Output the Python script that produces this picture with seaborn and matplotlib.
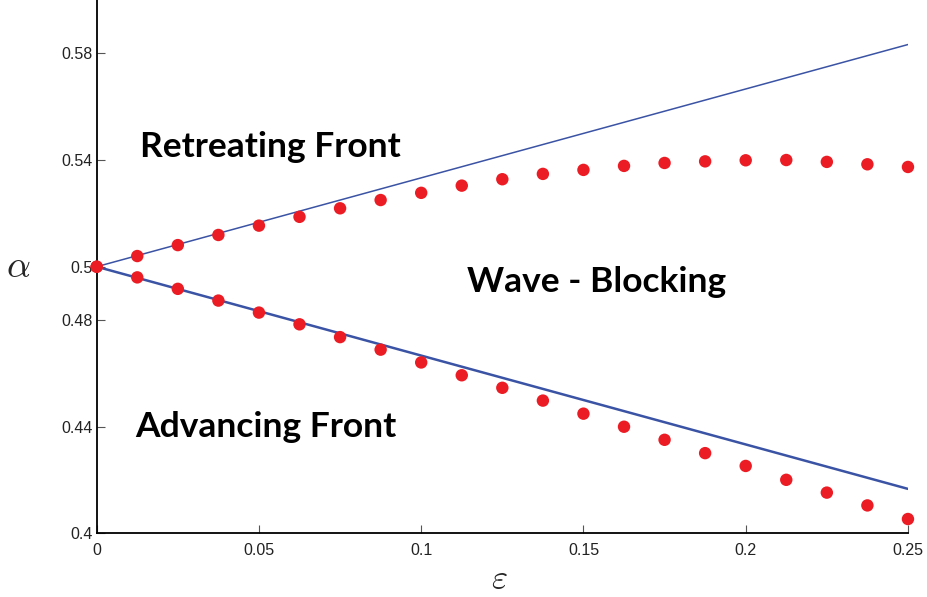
import matplotlib
matplotlib.use("Agg")
import matplotlib.pyplot as plt
import seaborn as sns
import pandas as pd

# ---- data ----
eps = [0, 0.0125, 0.025, 0.0375, 0.05, 0.0625, 0.075, 0.0875, 0.1, 0.1125,
       0.125, 0.1375, 0.15, 0.1625, 0.175, 0.1875, 0.2, 0.2125, 0.225, 0.2375, 0.25]
alpha_upper = [0.5, 0.5040, 0.5081, 0.5119, 0.5154, 0.5187, 0.5219, 0.5250, 0.5277, 0.5304,
               0.5328, 0.5348, 0.5363, 0.5378, 0.5389, 0.5395, 0.5399, 0.5400, 0.5393, 0.5384, 0.5374]
alpha_lower = [0.5, 0.4960, 0.4917, 0.4873, 0.4828, 0.4784, 0.4736, 0.4689, 0.4641, 0.4593,
               0.4546, 0.4498, 0.4449, 0.4400, 0.4351, 0.4301, 0.4253, 0.4201, 0.4153, 0.4105, 0.4054]
eps_line = [0, 0.25]
line_upper = [0.5, 0.5833]
line_lower = [0.5, 0.4167]
xticks = [0, 0.05, 0.1, 0.15, 0.2, 0.25]
xticklabels = ["0", "0.05", "0.1", "0.15", "0.2", "0.25"]
yticks = [0.4, 0.44, 0.48, 0.5, 0.54, 0.58]
yticklabels = ["0.4", "0.44", "0.48", "0.5", "0.54", "0.58"]
region_labels = ["Retreating Front", "Wave - Blocking", "Advancing Front"]
region_x = [0.0133, 0.1141, 0.0118]
region_y = [0.5411, 0.4905, 0.4362]

sns.set_style("ticks")
plt.rcParams["font.family"] = ["Liberation Sans", "DejaVu Sans"]
plt.rcParams["mathtext.fontset"] = "cm"

fig = plt.figure(figsize=(9.28, 5.97), dpi=100)
ax = fig.add_axes([0.1042, 0.1065, 0.8742, 0.8935])

blue = "#3a53a4"
red = "#ec1c24"

sns.lineplot(x=eps_line, y=line_upper, ax=ax, color=blue, lw=1.1, zorder=2)
sns.lineplot(x=eps_line, y=line_lower, ax=ax, color=blue, lw=1.8, zorder=2)

pts = pd.DataFrame({"eps": eps + eps, "alpha": alpha_upper + alpha_lower})
sns.scatterplot(data=pts, x="eps", y="alpha", ax=ax, color=red, s=80,
                edgecolor="none", zorder=3, clip_on=False)

ax.set_xlim(0, 0.25)
ax.set_ylim(0.4, 0.6)
ax.set_xticks(xticks)
ax.set_xticklabels(xticklabels)
ax.set_yticks(yticks)
ax.set_yticklabels(yticklabels)
ax.tick_params(direction="in", length=6, width=0.8, color="#555555",
               labelsize=11.5, labelcolor="#222222")
ax.tick_params(axis="x", pad=7)
ax.tick_params(axis="y", pad=3)
sns.despine(ax=ax)
for s in ["left", "bottom"]:
    ax.spines[s].set_linewidth(1.3)
    ax.spines[s].set_color("black")

ax.set_xlabel(r"$\varepsilon$", fontsize=25)
ax.set_ylabel(r"$\alpha$", fontsize=27, rotation=0)
ax.xaxis.set_label_coords(0.496, -0.085)
ax.yaxis.set_label_coords(-0.097, 0.5)
ax.yaxis.label.set_va("center")
ax.xaxis.label.set_va("center")

for lab, x, y in zip(region_labels, region_x, region_y):
    ax.text(x, y, lab, fontsize=25.5, fontweight="bold", family=["Lato", "DejaVu Sans"],
            ha="left", va="baseline", color="black")

fig.savefig("out.png", dpi=100)
